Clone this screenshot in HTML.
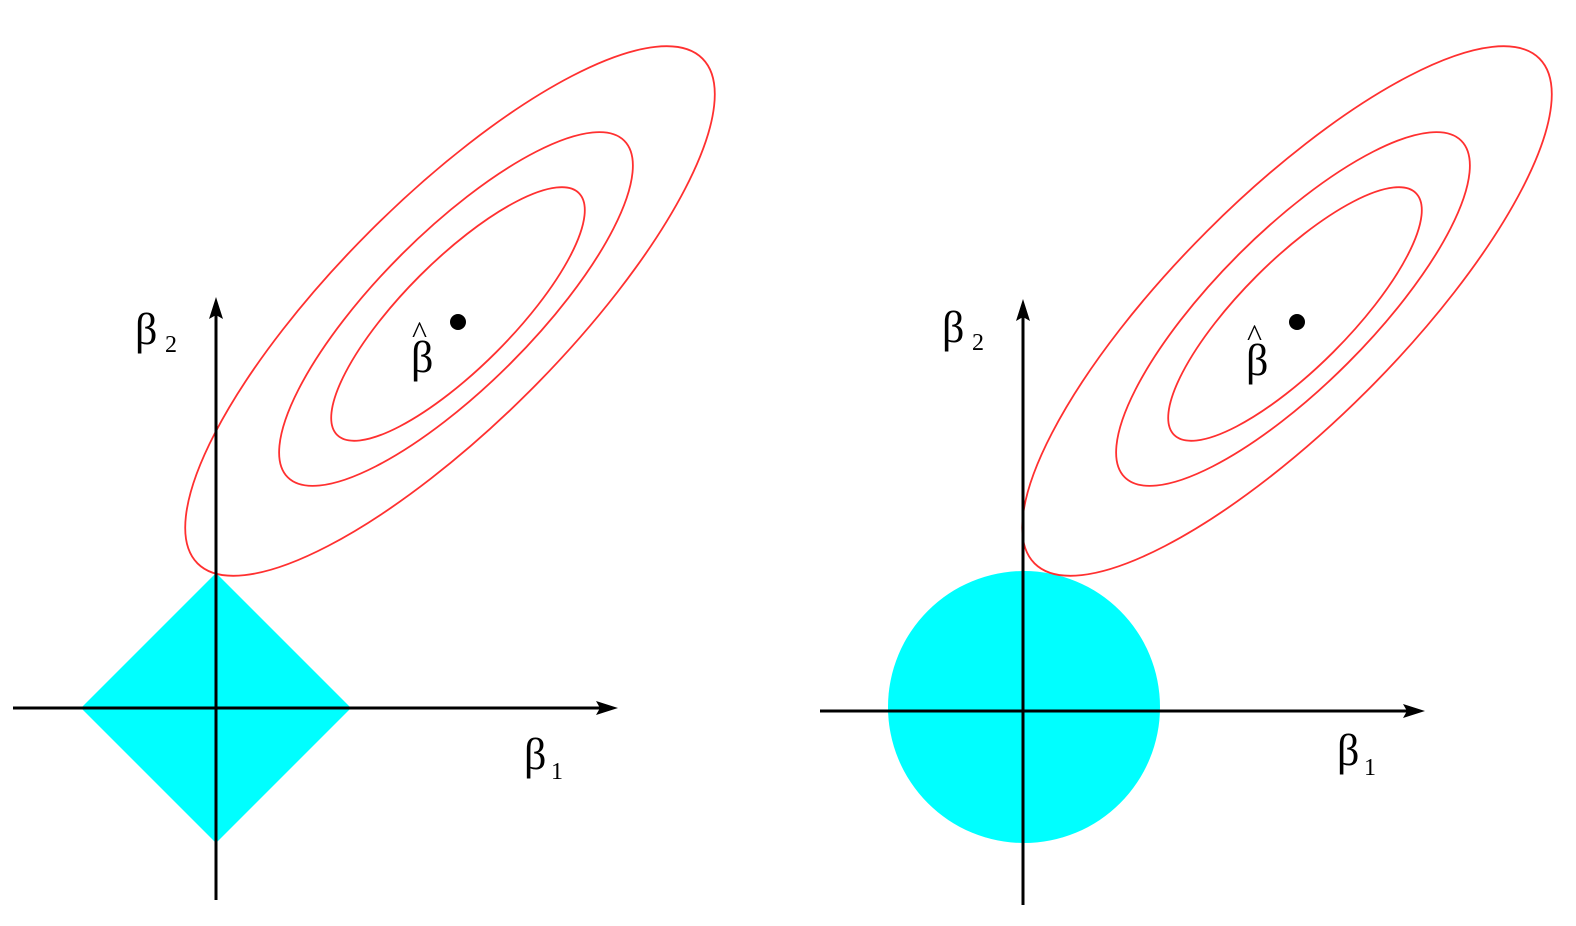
<!DOCTYPE html>
<html><head><meta charset="utf-8"><style>html,body{margin:0;padding:0;background:#fff;}svg{display:block}</style></head>
<body>
<svg width="1576" height="926" viewBox="0 0 1576 926" xmlns="http://www.w3.org/2000/svg" font-family="Liberation Serif, serif">
<rect width="1576" height="926" fill="#fff"/>
<!-- Left panel -->
<polygon points="81,708 216,573 351,708 216,843" fill="#00ffff"/>
<g fill="none" stroke="#ff3030" stroke-width="1.8">
<ellipse cx="450" cy="311" rx="357" ry="113" transform="rotate(-45 450 311)"/>
<ellipse cx="456" cy="309" rx="238" ry="77" transform="rotate(-45 456 309)"/>
<ellipse cx="458" cy="314" rx="171" ry="54" transform="rotate(-45 458 314)"/>
</g>
<g stroke="#000" stroke-width="3">
<line x1="13" y1="708" x2="605" y2="708"/>
<line x1="216" y1="900" x2="216" y2="310"/>
</g>
<polygon points="618,708 596,701 600,708 596,715" fill="#000"/>
<polygon points="216,297 209,319 216,315 223,319" fill="#000"/>
<circle cx="458" cy="322" r="8" fill="#000"/>
<text x="411" y="372" font-size="44">β</text>
<text x="412" y="343" font-size="32">^</text>
<text x="135" y="344" font-size="44">β</text>
<text x="165" y="352" font-size="24">2</text>
<text x="524" y="769" font-size="44">β</text>
<text x="551" y="779" font-size="24">1</text>
<!-- Right panel -->
<circle cx="1024" cy="707" r="136" fill="#00ffff"/>
<g fill="none" stroke="#ff3030" stroke-width="1.8">
<ellipse cx="1287" cy="311" rx="357" ry="113" transform="rotate(-45 1287 311)"/>
<ellipse cx="1293" cy="309" rx="238" ry="77" transform="rotate(-45 1293 309)"/>
<ellipse cx="1295" cy="314" rx="171" ry="54" transform="rotate(-45 1295 314)"/>
</g>
<g stroke="#000" stroke-width="3">
<line x1="820" y1="711" x2="1412" y2="711"/>
<line x1="1023" y1="905" x2="1023" y2="312"/>
</g>
<polygon points="1425,711 1403,704 1407,711 1403,718" fill="#000"/>
<polygon points="1023,299 1016,321 1023,317 1030,321" fill="#000"/>
<circle cx="1297" cy="322" r="8" fill="#000"/>
<text x="1246" y="375" font-size="44">β</text>
<text x="1247" y="346" font-size="32">^</text>
<text x="942" y="342" font-size="44">β</text>
<text x="972" y="350" font-size="24">2</text>
<text x="1337" y="765" font-size="44">β</text>
<text x="1364" y="775" font-size="24">1</text>
</svg>
</body></html>
